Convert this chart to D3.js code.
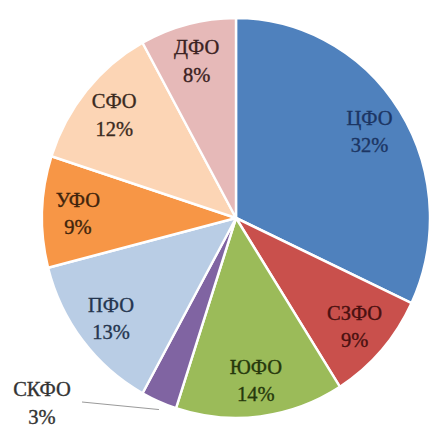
<!DOCTYPE html>
<html><head><meta charset="utf-8">
<script src="https://cdn.jsdelivr.net/npm/d3@7"></script>
<style>html,body{margin:0;padding:0;background:#fff;overflow:hidden}</style>
</head><body>
<svg id="c" width="431" height="428"></svg>
<script>
const categories = ["ЦФО","СЗФО","ЮФО","СКФО","ПФО","УФО","СФО","ДФО"];
const values = [32, 9, 14, 3, 13, 9, 12, 8];
const labels = ["32%","9%","14%","3%","13%","9%","12%","8%"];
const colors = ["#4F81BD","#C9504C","#9BBB59","#8064A2","#B9CDE5","#F79646","#FCD5B5","#E6B9B8"];
const textColors = ["#1c3563","#4a1010","#26380c","#333333","#25364f","#40240c","#3b2a1e","#3b2222"];

const svg = d3.select("#c");
const cx = 236, cy = 218, R = 200, sx = 0.97;
const g = svg.append("g").attr("transform", `translate(${cx},${cy}) scale(${sx},1)`);
const pie = d3.pie().sort(null).value(d => d)(values);
const arc = d3.arc().innerRadius(0).outerRadius(R);
const labelArc = d3.arc().innerRadius(163).outerRadius(163);

g.selectAll("path").data(pie).join("path")
  .attr("d", arc)
  .attr("fill", (d,i) => colors[i])
  .attr("stroke", "#fff")
  .attr("stroke-width", 2.5)
  .attr("stroke-linejoin", "round");

const font = "'Liberation Serif','Times New Roman',serif";
pie.forEach((d, i) => {
  let [x, y] = labelArc.centroid(d);
  x = cx + x * sx; y = cy + y;
  if (categories[i] === "СКФО") {
    const a = (d.startAngle + d.endAngle) / 2;
    const px = cx + Math.sin(a) * R * sx, py = cy - Math.cos(a) * R;
    const lx = 42, ly = 402;
    svg.append("line").attr("x1", lx + 40).attr("y1", ly).attr("x2", px).attr("y2", py + 8)
      .attr("stroke", "#9a9a9a").attr("stroke-width", 1);
    x = lx; y = ly;
  }
  const t = svg.append("text")
    .attr("x", x).attr("y", y)
    .attr("text-anchor", "middle")
    .attr("font-family", font)
    .attr("font-size", 20.5)
    .attr("fill", textColors[i])
    .attr("stroke", textColors[i])
    .attr("stroke-width", 0.35);
  t.append("tspan").attr("x", x).attr("dy", "-0.3em").text(categories[i]);
  t.append("tspan").attr("x", x).attr("dy", "1.35em").text(labels[i]);
});
</script>
</body></html>
